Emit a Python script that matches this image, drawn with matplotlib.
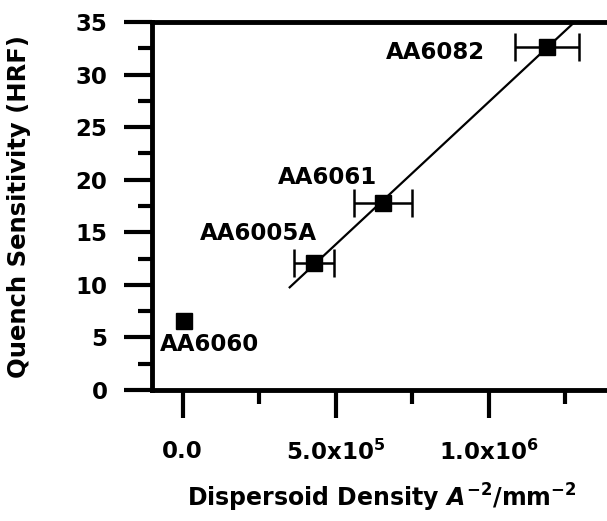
import numpy as np
import matplotlib
matplotlib.use("Agg")
import matplotlib.pyplot as plt
from matplotlib.ticker import MultipleLocator, FixedLocator, FixedFormatter

plt.rcParams['font.family'] = 'DejaVu Sans'
plt.rcParams['font.weight'] = 'bold'
plt.rcParams['mathtext.fontset'] = 'custom'
plt.rcParams['mathtext.rm'] = 'DejaVu Sans:bold'
plt.rcParams['mathtext.it'] = 'DejaVu Sans:bold:italic'
plt.rcParams['mathtext.bf'] = 'DejaVu Sans:bold'

# data
alloys = ["AA6060", "AA6005A", "AA6061", "AA6082"]
density = [5e3, 4.3e5, 6.55e5, 1.19e6]
density_err = [0, 6.5e4, 9.5e4, 1.05e5]
hrf = [6.6, 12.1, 17.8, 32.6]
xticks = [0.0, 5e5, 1e6]
xtick_labels = ["0.0", r"5.0x10$^{5}$", r"1.0x10$^{6}$"]

# label offsets (points) from each point
offsets = {"AA6060": (18, -17), "AA6005A": (-40, 21), "AA6061": (-40, 18), "AA6082": (-80, -4)}

fig = plt.figure(figsize=(6.07, 5.21), dpi=100)
ax = fig.add_axes([0.2504, 0.2514, 0.7814, 0.7064])

ax.plot(density, hrf, 's', color='black', ms=11, zorder=3)
has_err = [i for i, e in enumerate(density_err) if e > 0]
ax.errorbar([density[i] for i in has_err], [hrf[i] for i in has_err],
            xerr=[density_err[i] for i in has_err], fmt='none', ecolor='black',
            elinewidth=1.8, capsize=10, capthick=1.8, zorder=3)

# linear fit through the three alloys with dispersoids
k, b = np.polyfit(density[1:], hrf[1:], 1)
xf = np.array([3.5e5, 1.35e6])
ax.plot(xf, k * xf + b, color='black', lw=1.6, zorder=2)

for name, x, y in zip(alloys, density, hrf):
    ax.annotate(name, (x, y), xytext=offsets[name], textcoords='offset points',
                ha='center', va='center', fontsize=16.5, fontweight='bold')

ax.set_xlim(-1e5, 1.45e6)
ax.set_ylim(0, 35)
ax.xaxis.set_major_locator(FixedLocator(xticks))
ax.xaxis.set_major_formatter(FixedFormatter(xtick_labels))
ax.xaxis.set_minor_locator(MultipleLocator(2.5e5))
ax.yaxis.set_major_locator(MultipleLocator(5))
ax.yaxis.set_minor_locator(MultipleLocator(2.5))

for s in ax.spines.values():
    s.set_linewidth(3.5)
ax.tick_params(which='major', length=20, width=3, labelsize=16.5)
ax.tick_params(which='minor', length=10, width=3)
ax.tick_params(axis='x', which='major', pad=16)
ax.tick_params(axis='y', which='major', pad=12)

ax.set_xlabel(r"Dispersoid Density $\mathit{A}^{-2}$/mm$^{-2}$", fontsize=17, fontweight='bold')
ax.set_ylabel("Quench Sensitivity (HRF)", fontsize=17.5, fontweight='bold')
ax.xaxis.set_label_coords(0.485, -0.25)
ax.yaxis.set_label_coords(-0.255, 0.5)

fig.savefig("out.png", dpi=100)
